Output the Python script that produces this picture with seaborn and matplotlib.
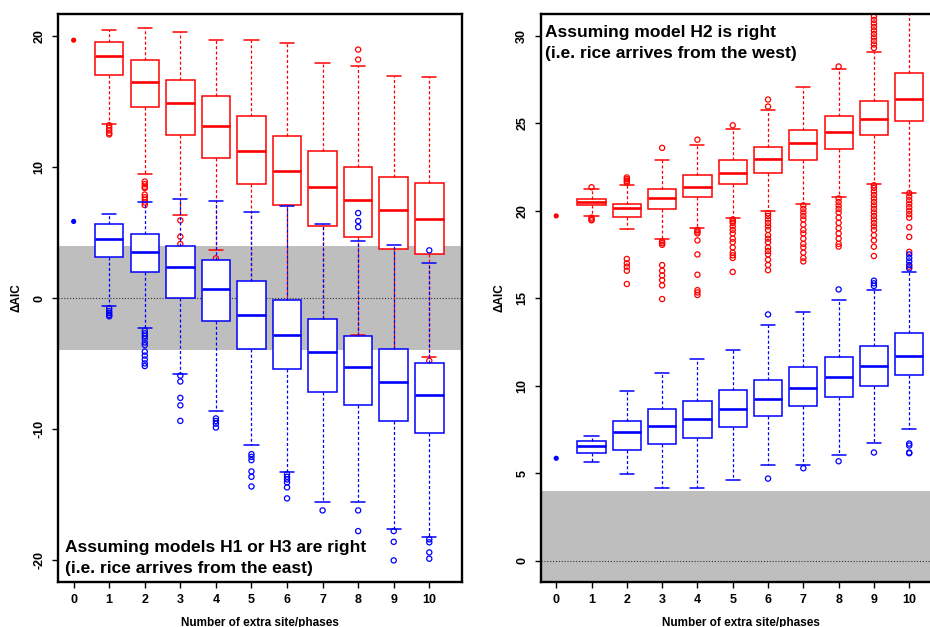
import matplotlib
matplotlib.use("Agg")
import matplotlib.pyplot as plt
import pandas as pd
import seaborn as sns

# ---------------- data ----------------
positions = [1, 2, 3, 4, 5, 6, 7, 8, 9, 10]
xtick_vals = [0, 1, 2, 3, 4, 5, 6, 7, 8, 9, 10]
xtick_labels = ["0", "1", "2", "3", "4", "5", "6", "7", "8", "9", "10"]
xlabel_text = "Number of extra site/phases"
ylabel_text = "\u0394AIC"

left_title = ["Assuming models H1 or H3 are right", "(i.e. rice arrives from the east)"]
right_title = ["Assuming model H2 is right", "(i.e. rice arrives from the west)"]

left_yticks = [-20, -10, 0, 10, 20]
right_yticks = [0, 5, 10, 15, 20, 25, 30]

# value at 0 extra sites (single point)
zero_red = 19.7
zero_blue = 5.85

# Left panel - red series
L_red_hi = [20.46, 20.64, 20.31, 19.69, 19.69, 19.52, 17.94, 17.71, 17.0, 16.87]
L_red_q3 = [19.54, 18.2, 16.69, 15.42, 13.87, 12.4, 11.25, 10.03, 9.24, 8.78]
L_red_med = [18.47, 16.49, 14.89, 13.18, 11.27, 9.72, 8.45, 7.51, 6.69, 6.06]
L_red_q1 = [17.05, 14.56, 12.42, 10.66, 8.68, 7.13, 5.5, 4.69, 3.77, 3.34]
L_red_lo = [13.31, 9.47, 6.37, 3.69, 1.0, -0.5, -2.5, -2.8, -4.2, -4.5]
L_red_out = [
    [13.2, 13.0, 12.8, 12.6, 12.5],
    [8.9, 8.7, 8.5, 8.4, 7.9, 7.7, 7.5, 7.3, 7.1],
    [5.93, 4.69, 4.12],
    [3.03],
    [],
    [],
    [],
    [18.98, 18.22],
    [],
    [-4.8],
]

# Left panel - blue series
L_blue_hi = [6.44, 7.33, 7.56, 7.38, 6.57, 7.0, 5.65, 4.38, 4.07, 2.67]
L_blue_q3 = [5.68, 4.89, 4.0, 2.93, 1.30, -0.13, -1.58, -2.9, -3.86, -4.96]
L_blue_med = [4.48, 3.51, 2.34, 0.72, -1.27, -2.8, -4.15, -5.24, -6.41, -7.4]
L_blue_q1 = [3.16, 1.98, 0.03, -1.78, -3.86, -5.44, -7.22, -8.17, -9.41, -10.35]
L_blue_lo = [-0.61, -2.29, -5.77, -8.6, -11.24, -13.33, -15.62, -15.57, -17.66, -18.27]
L_blue_out = [
    [-0.8, -1.0, -1.15, -1.3, -1.4],
    [-2.5, -2.7, -2.9, -3.1, -3.4, -3.6, -4.1, -4.4, -4.7, -5.0, -5.2],
    [-5.93, -6.38, -7.63, -8.2, -9.39],
    [-9.2, -9.4, -9.6, -9.9],
    [-11.93, -12.14, -12.39, -13.25, -13.66, -14.4],
    [-13.46, -13.66, -13.86, -14.09, -14.47, -15.31],
    [-16.23],
    [6.49, 5.88, 5.42, -16.23, -17.81],
    [-17.81, -18.63, -20.05],
    [3.64, -18.44, -18.67, -19.44, -19.92],
]

# Right panel - red series
R_red_hi = [21.24, 21.47, 22.92, 23.76, 24.69, 25.78, 27.04, 28.09, 29.04, 31.8]
R_red_q3 = [20.69, 20.4, 21.22, 22.02, 22.88, 23.64, 24.63, 25.42, 26.26, 27.84]
R_red_med = [20.52, 20.17, 20.73, 21.37, 22.17, 22.96, 23.87, 24.52, 25.26, 26.37]
R_red_q1 = [20.33, 19.62, 20.08, 20.77, 21.55, 22.16, 22.9, 23.55, 24.33, 25.11]
R_red_lo = [19.71, 18.97, 18.4, 18.99, 19.6, 19.97, 20.38, 20.78, 21.51, 21.03]
R_red_out = [
    [21.34, 19.6, 19.5, 19.45],
    [21.9, 21.8, 21.7, 21.6, 17.24, 16.99, 16.8, 16.57, 15.81],
    [23.59, 18.25, 18.15, 18.05, 16.89, 16.57, 16.3, 16.03, 15.73, 14.95],
    [24.06, 18.9, 18.8, 18.7, 18.3, 17.5, 16.34, 15.46, 15.33, 15.18],
    [24.88, 19.5, 19.4, 19.3, 19.1, 18.9, 18.7, 18.4, 18.2, 17.9, 17.6, 17.45, 17.3, 16.5],
    [26.35, 25.95, 19.85, 19.7, 19.5, 19.3, 19.1, 18.9, 18.6, 18.4, 18.2, 17.9, 17.7,
     17.5, 17.2, 16.9, 16.6],
    [20.3, 20.1, 19.9, 19.7, 19.5, 19.2, 18.9, 18.7, 18.4, 18.1, 17.9, 17.6, 17.3, 17.1],
    [28.24, 20.7, 20.5, 20.3, 20.1, 19.9, 19.6, 19.3, 19.0, 18.7, 18.4, 18.1, 17.95],
    [29.3, 29.5, 29.7, 29.9, 30.1, 30.3, 30.5, 30.7, 30.9, 31.1, 21.45, 21.3, 21.1,
     20.9, 20.7, 20.5, 20.3, 20.1, 19.9, 19.7, 19.5, 19.3, 19.1, 18.9, 18.6, 18.3,
     17.94, 17.41],
    [21.0, 20.8, 20.6, 20.4, 20.2, 20.0, 19.8, 19.6, 19.05, 18.5, 17.65, 16.8],
]

# Right panel - blue series
R_blue_hi = [7.15, 9.67, 10.7, 11.53, 12.01, 13.48, 14.2, 14.89, 15.46, 16.51]
R_blue_q3 = [6.83, 7.99, 8.64, 9.1, 9.76, 10.35, 11.08, 11.61, 12.26, 12.99]
R_blue_med = [6.58, 7.36, 7.7, 8.08, 8.66, 9.25, 9.88, 10.5, 11.12, 11.71]
R_blue_q1 = [6.14, 6.35, 6.65, 7.01, 7.63, 8.26, 8.83, 9.36, 9.99, 10.6]
R_blue_lo = [5.66, 4.94, 4.15, 4.15, 4.63, 5.49, 5.47, 6.04, 6.75, 7.53]
R_blue_out = [
    [],
    [],
    [],
    [],
    [],
    [14.07, 4.69],
    [5.28],
    [15.5, 5.68],
    [16.0, 15.85, 15.7, 6.18],
    [17.5, 17.3, 17.1, 16.9, 16.7, 6.69, 6.58, 6.18, 6.14],
]

RED = "#ff0000"
BLUE = "#0000ff"
BAND = "#bebebe"

# ---------------- style ----------------
sns.set_theme(style="ticks")
plt.rcParams["font.family"] = ["Liberation Sans", "DejaVu Sans"]
plt.rcParams["font.weight"] = "bold"
plt.rcParams["axes.labelweight"] = "bold"
for key in ["text.color", "axes.labelcolor", "xtick.color", "ytick.color",
            "xtick.labelcolor", "ytick.labelcolor", "axes.edgecolor"]:
    plt.rcParams[key] = "black"

fig = plt.figure(figsize=(9.3, 6.27), dpi=100)
W, H = 930.0, 627.0
ax_l = fig.add_axes([58 / W, 1 - 582 / H, (462 - 58) / W, (582 - 14) / H])
ax_r = fig.add_axes([540.7 / W, 1 - 582 / H, (941.7 - 540.7) / W, (582 - 14) / H])


def draw_series(ax, q1, med, q3, lo, hi, outs, color, z):
    stats = []
    for i in range(len(positions)):
        stats.append(dict(med=med[i], q1=q1[i], q3=q3[i], whislo=lo[i], whishi=hi[i], fliers=[]))
    ax.bxp(stats, positions=positions, widths=0.8, capwidths=0.4, patch_artist=True,
           showfliers=False, manage_ticks=False, zorder=z,
           boxprops=dict(facecolor="white", edgecolor=color, linewidth=1.1),
           medianprops=dict(color=color, linewidth=1.9, solid_capstyle="butt"),
           whiskerprops=dict(color=color, linewidth=0.9, linestyle=(0, (2.4, 1.8))),
           capprops=dict(color=color, linewidth=1.1))
    xs, ys = [], []
    for p, vals in zip(positions, outs):
        for v in vals:
            xs.append(p)
            ys.append(v)
    if xs:
        df = pd.DataFrame({"x": xs, "y": ys})
        sns.scatterplot(data=df, x="x", y="y", ax=ax, color=color, s=14, marker="o",
                        linewidth=0.9, zorder=z + 0.5, legend=False)
        coll = ax.collections[-1]
        coll.set_facecolor("none")
        coll.set_edgecolor(color)


def zero_points(ax, zorder):
    df = pd.DataFrame({"x": [0, 0], "y": [zero_red, zero_blue], "c": ["r", "b"]})
    sns.scatterplot(data=df, x="x", y="y", hue="c", palette={"r": RED, "b": BLUE},
                    s=14, linewidth=0, ax=ax, legend=False, zorder=zorder)


for ax, ylim, band_lo, yt in [(ax_l, (-21.7, 21.7), -4, left_yticks),
                              (ax_r, (-1.22, 31.24), -5, right_yticks)]:
    ax.set_facecolor("white")
    ax.axhspan(band_lo, 4, color=BAND, lw=0, zorder=0.5)
    ax.axhline(0, color="#333333", lw=0.8, ls=(0, (1, 1.6)), zorder=0.8)
    ax.set_xlim(-0.44, 10.92)
    ax.set_ylim(*ylim)
    ax.set_xticks(xtick_vals)
    ax.set_xticklabels(xtick_labels)
    ax.set_yticks(yt)
    ax.set_yticklabels([str(v) for v in yt], rotation=90, va="center")
    ax.tick_params(axis="both", direction="out", length=4, width=1.0, labelsize=9,
                   color="black", labelcolor="black")
    ax.tick_params(axis="x", pad=4.5)
    ax.tick_params(axis="y", pad=5)
    for sp in ax.spines.values():
        sp.set_visible(True)
        sp.set_linewidth(1.7)
        sp.set_color("black")
    ax.grid(False)

draw_series(ax_l, L_red_q1, L_red_med, L_red_q3, L_red_lo, L_red_hi, L_red_out, RED, 2)
draw_series(ax_l, L_blue_q1, L_blue_med, L_blue_q3, L_blue_lo, L_blue_hi, L_blue_out, BLUE, 3)
draw_series(ax_r, R_red_q1, R_red_med, R_red_q3, R_red_lo, R_red_hi, R_red_out, RED, 2)
draw_series(ax_r, R_blue_q1, R_blue_med, R_blue_q3, R_blue_lo, R_blue_hi, R_blue_out, BLUE, 3)
zero_points(ax_l, 4)
zero_points(ax_r, 4)

for ax, xl in [(ax_l, -0.087), (ax_r, -0.089)]:
    ax.set_xlabel(xlabel_text, fontsize=8.5, fontweight="bold", color="black")
    ax.set_ylabel(ylabel_text, fontsize=8.5, fontweight="bold", color="black")
    ax.xaxis.set_label_coords(0.5, -0.061)
    ax.yaxis.set_label_coords(xl, 0.5)

ax_l.text(0.017, 0.0523, left_title[0], transform=ax_l.transAxes, fontsize=12.5,
          fontweight="bold", va="baseline", ha="left", zorder=6, color="black")
ax_l.text(0.017, 0.0153, left_title[1], transform=ax_l.transAxes, fontsize=12.5,
          fontweight="bold", va="baseline", ha="left", zorder=6, color="black")
ax_r.text(0.011, 0.9590, right_title[0], transform=ax_r.transAxes, fontsize=12.5,
          fontweight="bold", va="baseline", ha="left", zorder=6, color="black")
ax_r.text(0.011, 0.9225, right_title[1], transform=ax_r.transAxes, fontsize=12.5,
          fontweight="bold", va="baseline", ha="left", zorder=6, color="black")

fig.savefig("out.png", dpi=100)
